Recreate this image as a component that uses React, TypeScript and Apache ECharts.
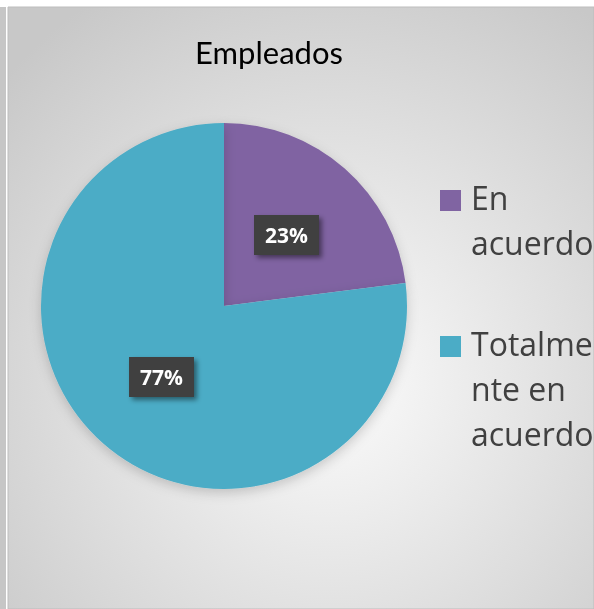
import React, { useEffect, useRef } from "react";
import * as echarts from "echarts";

const title = "Empleados";
const categories = ["En acuerdo", "Totalmente en acuerdo"];
const legendLines = [["En", "acuerdo"], ["Totalme", "nte en", "acuerdo"]];
const values = [23, 77];
const colors = ["#8064A2", "#4BACC6"];

export default function App() {
  const ref = useRef<HTMLDivElement>(null);
  useEffect(() => {
    if (!ref.current) return;
    const chart = echarts.init(ref.current, null, { renderer: "svg" });
    const legendTops = [175, 321];
    const legendGraphics: any[] = [];
    categories.forEach((c, i) => {
      legendGraphics.push({
        type: "rect",
        shape: { x: 440, y: legendTops[i] + 15, width: 21, height: 21 },
        style: { fill: colors[i] },
        z: 10,
      });
      legendGraphics.push({
        type: "text",
        x: 471,
        y: legendTops[i],
        style: {
          text: legendLines[i].join("\n"),
          font: "32px 'Open Sans', sans-serif",
          lineHeight: 45,
          fill: "#404040",
          align: "left",
          verticalAlign: "top",
        },
        z: 10,
      });
    });
    chart.setOption({
      animation: false,
      graphic: [
        { type: "rect", shape: { x: 0, y: 0, width: 594, height: 609 }, style: { fill: "#ffffff" }, z: -100 },
        { type: "rect", shape: { x: 0, y: 7, width: 6, height: 602 }, style: { fill: "#c6c6c6" }, z: -99 },
        {
          type: "rect",
          shape: { x: 8, y: 7, width: 586, height: 602 },
          style: {
            fill: new echarts.graphic.RadialGradient(0.55, 0.62, 0.75, [
              { offset: 0, color: "#fcfcfc" },
              { offset: 1, color: "#c8c8c8" },
            ]),
            stroke: "#bdbdbd",
            lineWidth: 1,
          },
          z: -98,
        },
        {
          type: "text",
          x: 269,
          y: 52,
          style: {
            text: title,
            font: "31px Lato, sans-serif",
            fill: "#000000",
            align: "center",
            verticalAlign: "middle",
          },
          z: 10,
        },
        ...legendGraphics,
      ],
      series: [
        {
          type: "pie",
          center: [224, 306],
          radius: 183,
          startAngle: 90,
          clockwise: true,
          data: categories.map((c, i) => ({ name: c, value: values[i], itemStyle: { color: colors[i] } })),
          itemStyle: { shadowBlur: 12, shadowColor: "rgba(0,0,0,0.18)", shadowOffsetY: 4 },
          label: {
            show: true,
            position: "inside",
            formatter: "{d}%",
            color: "#ffffff",
            fontFamily: "'Open Sans', sans-serif",
            fontWeight: "bold",
            fontSize: 21,
            lineHeight: 22,
            backgroundColor: "#3f3f3f",
            padding: [9, 11],
            shadowColor: "rgba(0,0,0,0.45)",
            shadowBlur: 5,
            shadowOffsetX: 3,
            shadowOffsetY: 3,
          },
          labelLine: { show: false },
          emphasis: { disabled: true },
        },
      ],
    });
    return () => chart.dispose();
  }, []);
  return <div ref={ref} style={{ position: "fixed", left: 0, top: 0, width: 594, height: 609 }} />;
}
